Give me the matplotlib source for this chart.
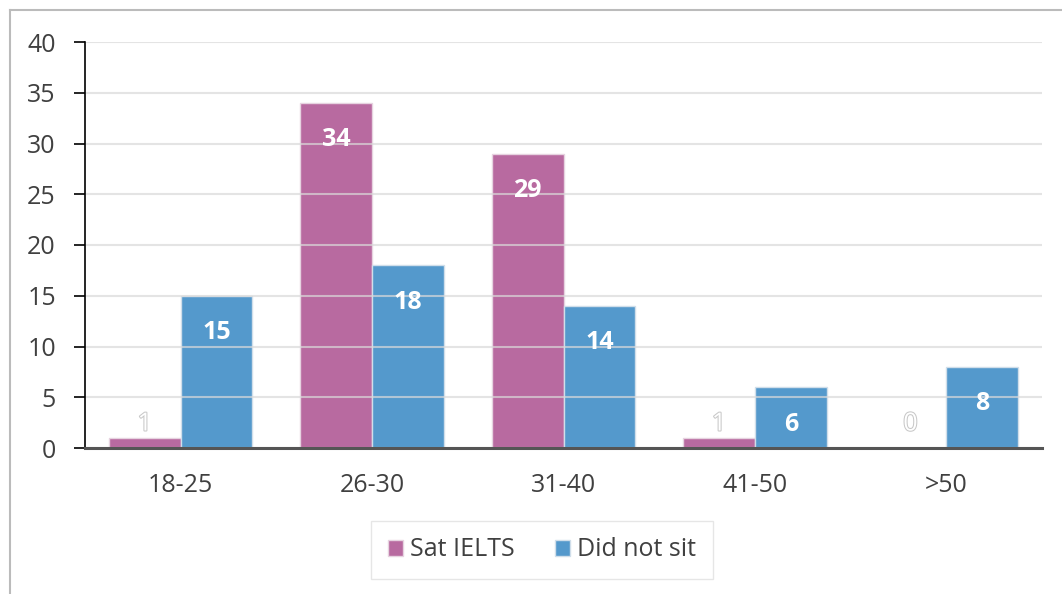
import matplotlib
matplotlib.use("Agg")
import matplotlib.pyplot as plt
import matplotlib.patheffects as pe
from matplotlib.lines import Line2D
import numpy as np

categories = ["18-25", "26-30", "31-40", "41-50", ">50"]
sat_ielts = [1, 34, 29, 1, 0]
did_not_sit = [15, 18, 14, 6, 8]
series_names = ["Sat IELTS", "Did not sit"]
y_ticks = [0, 5, 10, 15, 20, 25, 30, 35, 40]

pink = "#B86AA0"
blue = "#5499CC"
text_col = "#404040"

plt.rcParams['font.family'] = ['Open Sans', 'DejaVu Sans']

W, H = 1062, 594
fig = plt.figure(figsize=(W / 100, H / 100), dpi=100)
ax = fig.add_axes([85 / W, 1 - 448 / H, (1042 - 85) / W, (448 - 42) / H])

x = np.arange(len(categories))
bw = 0.375
b1 = ax.bar(x - bw / 2, sat_ielts, bw, color=pink, edgecolor="#E6D3E0", linewidth=1, zorder=2, label=series_names[0])
b2 = ax.bar(x + bw / 2, did_not_sit, bw, color=blue, edgecolor="#D0DEEA", linewidth=1, zorder=2, label=series_names[1])

ax.set_ylim(0, 40)
ax.set_xlim(-0.5, len(categories) - 0.5)
ax.set_yticks(y_ticks)
ax.set_xticks(x)
ax.set_xticklabels(categories)
ax.yaxis.grid(True, color="#D9D9D9", linewidth=1.5, zorder=3, alpha=0.7)
ax.set_axisbelow(False)
ax.xaxis.grid(False)

for s in ["top", "right"]:
    ax.spines[s].set_visible(False)
ax.spines["left"].set_color("black")
ax.spines["left"].set_linewidth(1.2)
ax.spines["left"].set_zorder(4)
ax.spines["bottom"].set_color("#555555")
ax.spines["bottom"].set_linewidth(2.2)
ax.spines["bottom"].set_zorder(4)

ax.tick_params(axis="y", direction="out", length=8, width=1.2, color="black", labelsize=18, labelcolor=text_col, pad=13)
ax.tick_params(axis="x", length=0, labelsize=18, labelcolor=text_col, pad=18)

# data labels
def label_bars(bars, vals):
    for rect, v in zip(bars, vals):
        cx = rect.get_x() + rect.get_width() / 2
        if v >= 5:
            ax.annotate(str(v), (cx, v), xytext=(0, -37), textcoords="offset pixels",
                        ha="center", va="center", fontsize=18, fontweight="bold",
                        color="white", zorder=5)
        else:
            ax.annotate(str(v), (cx, 0), xytext=(0, 24), textcoords="offset pixels",
                        ha="center", va="center", fontsize=18, fontweight="normal",
                        color="white", zorder=5,
                        path_effects=[pe.withStroke(linewidth=1.5, foreground="#C8C8C8")])

label_bars(b1, sat_ielts)
label_bars(b2, did_not_sit)

# legend
leg = fig.legend(handles=[b1, b2], labels=series_names, loc="center",
                 bbox_to_anchor=(542 / W, 1 - 550 / H), ncol=2, frameon=True,
                 fontsize=18, handlelength=0.6, handleheight=0.6, handletextpad=0.3,
                 columnspacing=1.6, borderpad=0.65, borderaxespad=0, fancybox=False,
                 edgecolor="#E0E0E0")
for t in leg.get_texts():
    t.set_color(text_col)
leg.get_frame().set_linewidth(1)

# outer frame (left and top)
fig.add_artist(Line2D([10 / W, 10 / W], [0, 1 - 10 / H], transform=fig.transFigure, color="#BBBBBB", linewidth=1.5))
fig.add_artist(Line2D([10 / W, 1], [1 - 10 / H, 1 - 10 / H], transform=fig.transFigure, color="#BBBBBB", linewidth=1.5))

fig.savefig("out.png", dpi=100)
